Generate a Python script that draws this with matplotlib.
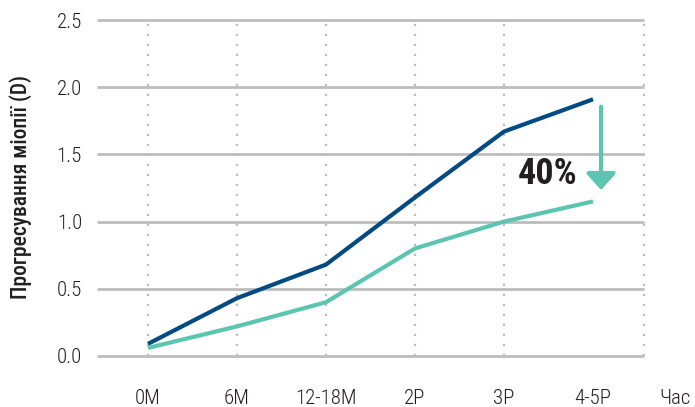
import matplotlib.pyplot as plt
from matplotlib import font_manager

# Data
categories = ['0M', '6M', '12-18M', '2P', '3P', '4-5P']
control = [0.09, 0.43, 0.68, 1.18, 1.67, 1.91]
treated = [0.06, 0.22, 0.40, 0.80, 1.00, 1.15]
y_ticks = [0.0, 0.5, 1.0, 1.5, 2.0, 2.5]

DARK = '#014a82'
TEAL = '#5cc5b2'
GRID = '#bdbdbd'
TXT = '#231f20'

# pick a narrow font if one is available
installed = {f.name for f in font_manager.fontManager.ttflist}
font = 'DejaVu Sans'
for name in ['Roboto Condensed', 'Liberation Sans Narrow', 'Roboto']:
    if name in installed:
        font = name
        break
plt.rcParams['font.family'] = [font, 'DejaVu Sans']

fig = plt.figure(figsize=(6.95, 4.07), dpi=100)
ax = fig.add_axes([0.1361, 0.0924, 0.794, 0.8914])

x = list(range(len(categories)))
x_left, x_right = -0.57, 5.57

# grid: solid horizontal, dotted vertical
ax.hlines(y_ticks, x_left, x_right, color=GRID, lw=2, zorder=1)
ax.vlines(x[:-1] + [x_right], 0, 2.5, color=GRID, lw=1.6,
          linestyles=(0, (1, 3.5)), zorder=1)

ax.plot(x, control, color=DARK, lw=3, solid_capstyle='butt', zorder=3)
ax.plot(x, treated, color=TEAL, lw=3, solid_capstyle='butt', zorder=3)

# arrow + label
ax.annotate('', xy=(5.09, 1.235), xytext=(5.09, 1.855),
            arrowprops=dict(arrowstyle='-|>,head_length=0.5,head_width=0.45',
                            color=TEAL, lw=3, shrinkA=0, shrinkB=0,
                            mutation_scale=20), zorder=4)
ax.text(4.49, 1.354, '40%', fontsize=26, fontweight='bold', color=TXT,
        ha='center', va='center', zorder=4)

ax.set_xlim(-0.6, 5.6)
ax.set_ylim(-0.1, 2.6)
ax.set_xticks(x)
ax.set_xticklabels(categories)
ax.set_yticks(y_ticks)
ax.set_yticklabels([f'{v:.1f}' for v in y_ticks])
ax.tick_params(axis='both', length=0, labelsize=15, colors=TXT)
ax.tick_params(axis='y', pad=9)
ax.tick_params(axis='x', pad=14)
for lab in ax.get_xticklabels() + ax.get_yticklabels():
    lab.set_fontweight('light')
for s in ax.spines.values():
    s.set_visible(False)

ax.annotate('Час', xy=(6.1, 0), xycoords=('data', 'axes fraction'),
            xytext=(0, -14), textcoords='offset points', fontsize=15,
            fontweight='light', color=TXT, ha='right', va='top',
            annotation_clip=False)

fig.text(0.029, 1 - 187 / 407, 'Прогресування міопії (D)', rotation=90,
         fontsize=15.5, fontweight='medium', color=TXT,
         ha='center', va='center')

plt.savefig('out.png', dpi=100)
plt.close()
